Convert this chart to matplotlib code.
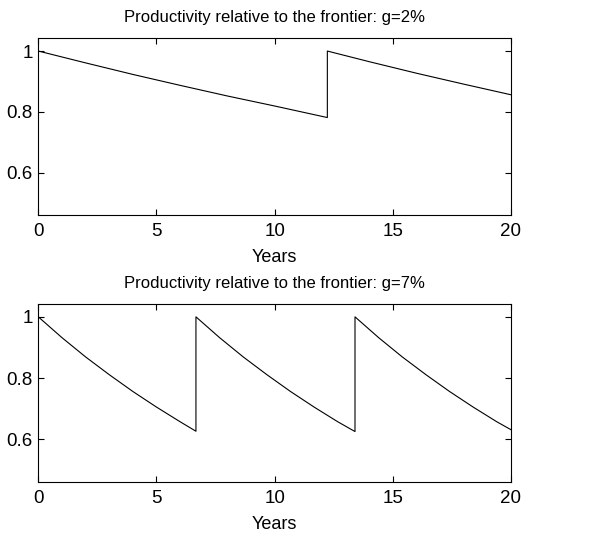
import matplotlib
matplotlib.use("Agg")
import matplotlib.pyplot as plt

plt.rcParams['font.family'] = ['Liberation Sans', 'DejaVu Sans']

# g = 2% panel
years_g2 = [0, 2, 4, 6, 8, 10, 12.23, 12.23, 14, 16, 18, 20]
prod_g2 = [1.0, 0.961, 0.923, 0.887, 0.852, 0.819, 0.781, 1.0, 0.965, 0.927, 0.891, 0.856]

# g = 7% panel
years_g7 = [0, 1, 2, 3, 4, 5, 6, 6.67,
            6.67, 7.67, 8.67, 9.67, 10.67, 11.67, 12.67, 13.4,
            13.4, 14.4, 15.4, 16.4, 17.4, 18.4, 19.4, 20]
prod_g7 = [1.0, 0.932, 0.869, 0.811, 0.756, 0.705, 0.657, 0.626,
           1.0, 0.932, 0.869, 0.811, 0.756, 0.705, 0.657, 0.625,
           1.0, 0.932, 0.869, 0.811, 0.756, 0.705, 0.657, 0.631]

titles = ["Productivity relative to the frontier: g=2%",
          "Productivity relative to the frontier: g=7%"]
xticks = [0, 5, 10, 15, 20]
yticks = [0.6, 0.8, 1.0]
yticklabels = ["0.6", "0.8", "1"]
xlabel = "Years"

fig = plt.figure(figsize=(6.16, 5.37), dpi=100)
ax1 = fig.add_axes([0.0622, 0.5996, 0.7673, 0.3291])
ax2 = fig.add_axes([0.0622, 0.1024, 0.7673, 0.3315])

for ax, x, y, t in [(ax1, years_g2, prod_g2, titles[0]), (ax2, years_g7, prod_g7, titles[1])]:
    ax.plot(x, y, color='black', linewidth=0.8)
    ax.set_xlim(0, 20)
    ax.set_ylim(0.46, 1.042)
    ax.set_xticks(xticks)
    ax.set_xticklabels([str(v) for v in xticks])
    ax.set_yticks(yticks)
    ax.set_yticklabels(yticklabels)
    ax.tick_params(direction='in', top=True, right=True, labelsize=13.5, length=4, width=0.8)
    ax.tick_params(axis='x', pad=6)
    ax.tick_params(axis='y', pad=4)
    ax.set_xlabel(xlabel, fontsize=13, labelpad=6)
    ax.set_title(t, fontsize=12, pad=11.5)
    for s in ax.spines.values():
        s.set_linewidth(0.8)

fig.savefig("out.png", dpi=100)
